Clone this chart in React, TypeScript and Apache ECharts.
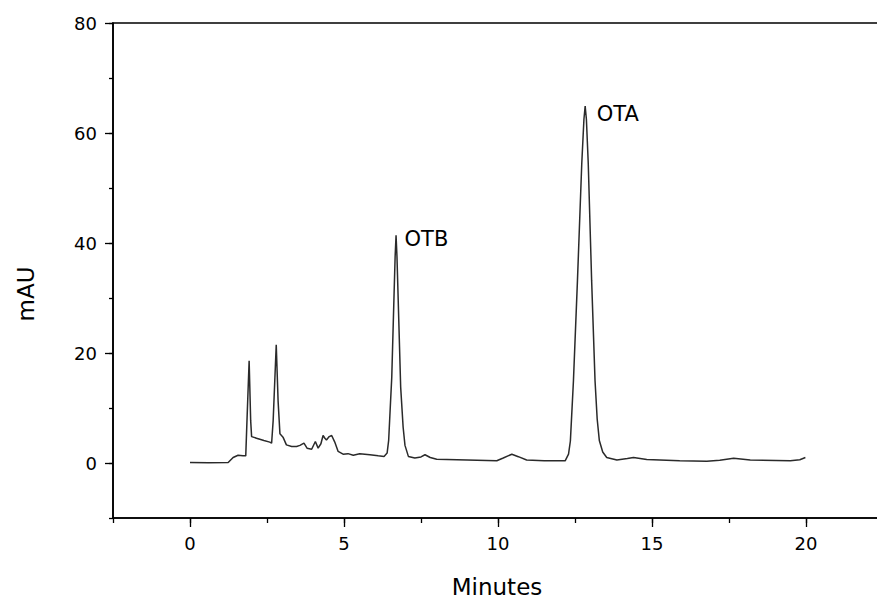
import React, { useEffect, useRef } from "react";
import * as echarts from "echarts";

// Chromatogram trace (retention time in minutes, absorbance in mAU)
const times = [
  0, 0.6, 1.24, 1.4, 1.56, 1.72, 1.81, 1.85, 1.92, 1.97, 2.0, 2.16, 2.4, 2.59, 2.65,
  2.7, 2.8, 2.86, 2.92, 3.02, 3.13, 3.3, 3.46, 3.57, 3.7, 3.8, 3.95, 4.07, 4.16, 4.25,
  4.32, 4.38, 4.43, 4.52, 4.6, 4.7, 4.81, 4.97, 5.13, 5.3, 5.51, 5.84, 6.11, 6.3, 6.4,
  6.45, 6.51, 6.55, 6.62, 6.66, 6.69, 6.72, 6.76, 6.84, 6.92, 6.98, 7.09, 7.3, 7.5,
  7.63, 7.8, 8.01, 9.0, 9.96, 10.17, 10.45, 10.66, 10.93, 11.5, 12.18, 12.29, 12.35,
  12.45, 12.58, 12.72, 12.79, 12.83, 12.87, 12.93, 13.04, 13.15, 13.22, 13.29, 13.4,
  13.53, 13.86, 14.2, 14.4, 14.83, 15.9, 16.78, 17.2, 17.65, 18.19, 19.49, 19.8, 19.98,
];
const mAU = [
  0.1, 0.05, 0.1, 1.0, 1.4, 1.3, 1.3, 7.7, 18.6, 7.7, 4.8, 4.5, 4.1, 3.8, 3.6,
  7.7, 21.5, 11.3, 5.3, 4.7, 3.3, 3.0, 3.0, 3.2, 3.6, 2.7, 2.5, 3.9, 2.7, 3.5,
  5.0, 4.5, 4.2, 4.8, 5.0, 3.8, 2.1, 1.6, 1.7, 1.4, 1.7, 1.5, 1.3, 1.2, 1.8,
  4.1, 11.0, 15.5, 29.6, 37.5, 41.4, 37.5, 29.6, 13.8, 6.5, 3.2, 1.2, 0.9, 1.1,
  1.5, 1.0, 0.7, 0.55, 0.4, 0.9, 1.6, 1.15, 0.55, 0.4, 0.4, 1.6, 4.0,
  15.0, 33.2, 54.5, 62.5, 64.9, 62.5, 54.5, 33.2, 15.0, 8.0, 4.1, 2.0,
  1.0, 0.55, 0.8, 1.0, 0.65, 0.4, 0.3, 0.5, 0.85, 0.55, 0.4, 0.6, 1.0,
];

// Peak annotations
const peakNames = ["OTB", "OTA"];
const peakTimes = [6.69, 12.83];
const peakValues = [41.4, 64.9];

// Axis ticks
const xMajorTicks = [0, 5, 10, 15, 20];
const yMajorTicks = [0, 20, 40, 60, 80];

const FONT = "DejaVu Sans";

export default function App() {
  const ref = useRef<HTMLDivElement>(null);
  useEffect(() => {
    if (!ref.current) return;
    const chart = echarts.init(ref.current, undefined, { renderer: "svg" });
    const axisLine = { show: true, onZero: false, lineStyle: { color: "#000", width: 1.6 } };
    const labelStyle = { fontFamily: FONT, fontSize: 18, color: "#000" };
    const data = times.map((t, i) => [t, mAU[i]]);
    chart.setOption({
      animation: false,
      backgroundColor: "#fff",
      grid: {
        left: 113,
        right: -6,
        top: 23,
        bottom: 83,
        outerBoundsMode: "none",
        containLabel: false,
        show: true,
        borderColor: "#000",
        borderWidth: 1.6,
      },
      xAxis: [
        {
          type: "value",
          min: -2.5,
          max: 22.5,
          interval: 2.5,
          position: "bottom",
          axisLine,
          axisTick: { show: true, length: 5, lineStyle: { color: "#000", width: 1.3 } },
          axisLabel: {
            ...labelStyle,
            margin: 16,
            formatter: (v: number) =>
              xMajorTicks.indexOf(Math.round(v * 100) / 100) >= 0 ? String(v) : "",
          },
          splitLine: { show: false },
        },
        {
          type: "value",
          min: -2.5,
          max: 22.5,
          position: "bottom",
          axisLine: { show: false, onZero: false },
          axisTick: {
            show: true,
            length: 9,
            customValues: xMajorTicks,
            lineStyle: { color: "#000", width: 1.3 },
          },
          axisLabel: { show: false },
          splitLine: { show: false },
        },
      ],
      yAxis: [
        {
          type: "value",
          min: -10,
          max: 80,
          interval: 10,
          position: "left",
          axisLine,
          axisTick: { show: true, length: 4, lineStyle: { color: "#000", width: 1.3 } },
          axisLabel: {
            ...labelStyle,
            margin: 16,
            formatter: (v: number) => (yMajorTicks.indexOf(v) >= 0 ? String(v) : ""),
          },
          splitLine: { show: false },
        },
        {
          type: "value",
          min: -10,
          max: 80,
          position: "left",
          axisLine: { show: false, onZero: false },
          axisTick: {
            show: true,
            length: 8,
            customValues: yMajorTicks,
            lineStyle: { color: "#000", width: 1.3 },
          },
          axisLabel: { show: false },
          splitLine: { show: false },
        },
      ],
      series: [
        {
          type: "line",
          data,
          xAxisIndex: 0,
          yAxisIndex: 0,
          showSymbol: false,
          symbol: "none",
          lineStyle: { color: "#2a2a2a", width: 1.5 },
          markPoint: {
            symbol: "circle",
            symbolSize: 1,
            itemStyle: { color: "rgba(0,0,0,0)" },
            data: peakNames.map((n, i) => ({
              name: n,
              coord: [peakTimes[i], peakValues[i]],
              label: {
                show: true,
                position: "right",
                distance: i === 0 ? 8 : 11,
                offset: [0, i === 0 ? 4 : 8],
                formatter: "{b}",
                fontFamily: FONT,
                fontSize: 21,
                color: "#000",
              },
            })),
          },
        },
      ],
      graphic: [
        {
          type: "text",
          x: 497,
          y: 587,
          style: {
            text: "Minutes",
            fontFamily: FONT,
            fontSize: 23,
            fill: "#000",
            textAlign: "center",
            textVerticalAlign: "middle",
          },
        },
        {
          type: "text",
          x: 26,
          y: 294,
          rotation: Math.PI / 2,
          style: {
            text: "mAU",
            fontFamily: FONT,
            fontSize: 23,
            fill: "#000",
            textAlign: "center",
            textVerticalAlign: "middle",
          },
        },
      ],
    });
    return () => chart.dispose();
  }, []);
  return (
    <div
      ref={ref}
      style={{ position: "fixed", left: 0, top: 0, width: 877, height: 601 }}
    />
  );
}
